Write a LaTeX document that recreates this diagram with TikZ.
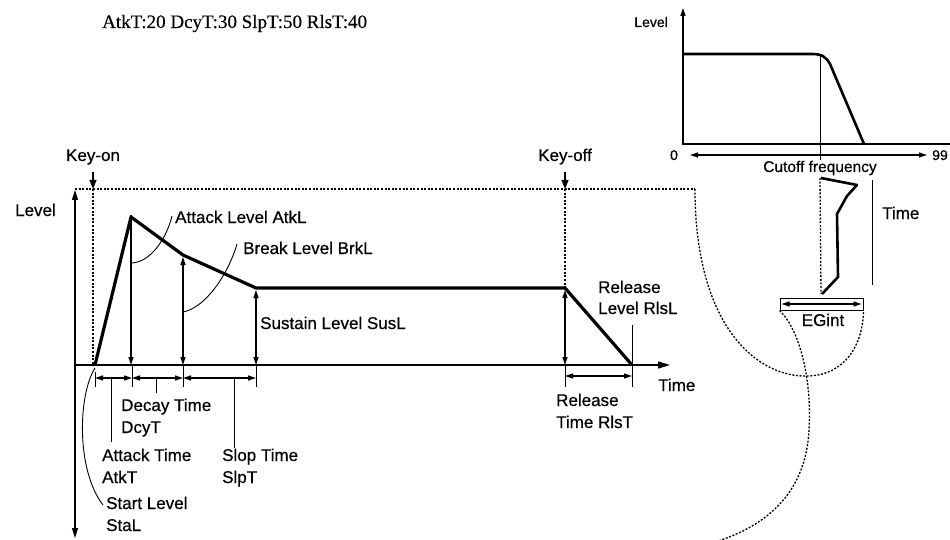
\documentclass[tikz,border=0pt]{standalone}
\usepackage{fontspec}
\setmainfont{Liberation Sans}[FakeBold=0.5]
\newfontfamily\titlefont{Liberation Serif}[FakeBold=0.3]
\usetikzlibrary{arrows.meta,positioning}

\begin{document}
\begin{tikzpicture}[x=1pt, y=-1pt, >={Triangle[length=8pt,width=5pt]},
    env/.style={line width=3.2pt, line join=round},
    dim/.style={line width=1.2pt},
    lead/.style={line width=0.9pt},
    dots/.style={line width=1.3pt, dash pattern=on 2pt off 1.6pt},
    lbl/.style={font=\fontsize{17}{21}\selectfont, inner sep=0pt},
    small/.style={font=\fontsize{14}{16}\selectfont, inner sep=0pt}]

\useasboundingbox (0,0) rectangle (950,540);

\node[anchor=base west, inner sep=0pt, font=\titlefont\fontsize{19}{22}\selectfont] (title) at (102,28) {AtkT:20 DcyT:30 SlpT:50 RlsT:40};

% envelope graph
\coordinate (org) at (75,365);
\coordinate (sta) at (95,365);
\coordinate (atk) at (131,217);
\coordinate (brk) at (183,255);
\coordinate (sus) at (256,288);
\coordinate (rel) at (565,288);
\coordinate (rls) at (632,365);
\coordinate (kon) at (93,189);
\coordinate (koff) at (565,189);

\draw[line width=1.5pt, {Triangle[length=10pt,width=6pt]}-{Triangle[length=10pt,width=6pt]}] (75,538) -- (75,190);
\draw[line width=1.5pt, -{Triangle[length=12pt,width=7pt]}] (org) -- (670,365);

\draw[dots] (75,189) -- (695,189) coordinate (fr);
\draw[dots] (kon) -- (kon |- org);
\draw[dots] (koff) -- (rel);

\draw[env] (sta) -- (atk) -- (brk) -- (sus) -- (rel) -- (rls);

\node[lbl, anchor=base] (keyon) at (93,161) {Key-on};
\node[lbl, anchor=base] (keyoff) at (565,161) {Key-off};
\draw[line width=1.2pt, -{Triangle[length=9pt,width=7pt]}] (keyon.south |- 0,172) -- (kon);
\draw[line width=1.2pt, -{Triangle[length=9pt,width=7pt]}] (keyoff.south |- 0,172) -- (koff);

\draw[dim, ->] ([yshift=2pt]atk) -- (atk |- org);
\draw[dim, <->, shorten <=2pt] (brk) -- (brk |- org);
\draw[dim, <->, shorten <=2pt] (sus) -- (sus |- org);
\draw[dim, <->, shorten <=2pt] (rel) -- (rel |- org);

\foreach \x/\t in {95/372, 132/365, 183/365, 256/365, 565/365, 632/325}
    \draw[lead] (\x,\t) -- (\x,387);
\draw[dim, <->] (95,378) -- (132,378);
\draw[dim, <->] (132,378) -- (183,378);
\draw[dim, <->] (183,378) -- (256,378);
\draw[dim, <->] (565,376) -- (632,376);

\draw[lead] (111,378) -- (111,442);
\draw[lead] (156,378) -- (156,393);
\draw[lead] (234,378) -- (234,448);
\draw[lead] (132,263) .. controls (150,262) and (166,240) .. (172,216);
\draw[lead] (183,312) .. controls (205,308) and (228,275) .. (237,244);
\draw[lead] (95,368) .. controls (78,395) and (76,470) .. (103,505);

\node[lbl, anchor=base east] (lvl) at (56,216) {Level};
\node[lbl, anchor=base west] (tm) at (658,391) {Time};
\node[lbl, anchor=base west] (atkl) at (175,223) {Attack Level AtkL};
\node[lbl, anchor=base west] (brkl) at (243,254) {Break Level BrkL};
\node[lbl, anchor=base west] (susl) at (260,329) {Sustain Level SusL};
\node[lbl, anchor=base west] (dcy1) at (121,411) {Decay Time};
\node[lbl, anchor=base west] (dcy2) at (121,433) {DcyT};
\node[lbl, anchor=base west] (atkt1) at (102,461) {Attack Time};
\node[lbl, anchor=base west] (atkt2) at (102,483) {AtkT};
\node[lbl, anchor=base west] (slp1) at (222,461) {Slop Time};
\node[lbl, anchor=base west] (slp2) at (222,483) {SlpT};
\node[lbl, anchor=base west] (stal1) at (106,509) {Start Level};
\node[lbl, anchor=base west] (stal2) at (106,531) {StaL};
\node[lbl, anchor=base west] (rlsl1) at (598,293) {Release};
\node[lbl, anchor=base west] (rlsl2) at (598,314) {Level RlsL};
\node[lbl, anchor=base west] (rlst1) at (556,406) {Release};
\node[lbl, anchor=base west] (rlst2) at (556,428) {Time RlsT};

% filter graph
\draw[line width=1.5pt, ->] (683,145) -- (683,8);
\draw[line width=2pt] (682,144) -- (950,144);
\draw[env, line width=2.6pt] (683,54) -- (812,54) .. controls (822,54) and (826,57) .. (830,64) -- (864,144);
\draw[lead] (820,55) -- (820,160);
\draw[dim, <->] (690,155) -- (927,155);
\node[small, anchor=base east] (flvl) at (668,27) {Level};
\node[small, anchor=base] (zero) at (674,160) {0};
\node[small, anchor=base west] (top) at (932,160) {99};
\node[lbl, font=\fontsize{15.5}{18}\selectfont, anchor=base] (cutoff) at (820,172) {Cutoff frequency};

% EG curve
\draw[env, line width=2.6pt] (821,178) -- (857,185) -- (847,196) -- (837,214) -- (838,277) -- (822,294);
\draw[dots] (820,178) -- (821,294);
\draw[lead] (872,180) -- (872,285);
\node[lbl, anchor=base west] (egtime) at (882,219) {Time};
\node[draw, line width=1pt, minimum width=83pt, minimum height=12pt, inner sep=0pt] (egbox) at (821.5,304) {};
\draw[dim, <->] ([xshift=2pt]egbox.west) -- ([xshift=-2pt]egbox.east);
\node[lbl, anchor=base] (egint) at (823,326) {EGint};

\draw[dots] (fr) .. controls (695,330) and (760,378) .. (808,376) .. controls (845,375) and (863,345) .. (egbox.south east);
\draw[dots] (egbox.south west) .. controls (800,330) and (812,380) .. (809,430) .. controls (806,490) and (770,525) .. (715,542);

\end{tikzpicture}
\end{document}
